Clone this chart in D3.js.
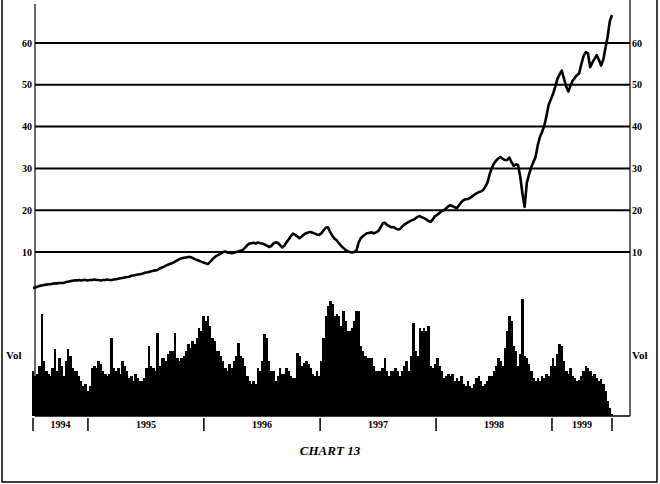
<!DOCTYPE html>
<html><head><meta charset="utf-8">
<script src="https://cdn.jsdelivr.net/npm/d3@7"></script>
<style>body{margin:0;background:#fff} svg{display:block} text{font-family:"Liberation Serif","DejaVu Serif",serif;fill:#000}</style>
</head><body><svg id="c" width="660" height="484"></svg>
<script>
const priceValues = [
1.4,1.5,1.7,1.9,2.0,2.1,2.2,2.3,2.3,2.4,
2.5,2.5,2.6,2.6,2.6,2.8,2.9,3.0,3.1,3.2,
3.2,3.3,3.2,3.3,3.3,3.2,3.3,3.3,3.4,3.3,
3.3,3.2,3.3,3.3,3.4,3.3,3.3,3.4,3.5,3.6,
3.7,3.8,3.9,4.0,4.1,4.3,4.4,4.5,4.6,4.7,
4.8,5.0,5.1,5.2,5.4,5.5,5.6,5.7,6.0,6.3,
6.5,6.8,7.0,7.2,7.4,7.7,8.0,8.3,8.5,8.6,
8.7,8.8,8.8,8.6,8.3,8.1,7.9,7.7,7.5,7.3,
7.1,7.6,8.2,8.7,9.1,9.4,9.7,10.0,10.1,9.9,
9.8,9.7,9.8,10.0,10.1,10.3,10.5,11.0,11.6,12.0,
12.1,12.2,12.0,12.3,12.1,12.0,11.8,11.5,11.2,11.4,
12.0,12.3,12.2,11.7,11.1,11.5,12.3,13.0,13.8,14.4,
14.1,13.7,13.3,13.7,14.2,14.5,14.7,14.8,14.6,14.4,
14.2,14.1,14.5,15.2,15.8,15.9,14.8,13.9,13.2,12.8,
12.1,11.5,11.0,10.5,10.2,10.0,9.9,10.0,10.3,12.2,
13.3,13.8,14.2,14.5,14.6,14.7,14.5,14.7,15.0,15.8,
16.8,17.0,16.5,16.2,15.9,16.0,15.6,15.4,15.5,16.1,
16.6,16.9,17.2,17.5,17.7,18.0,18.4,18.6,18.3,18.1,
17.8,17.4,17.2,17.8,18.6,18.9,19.3,19.8,20.0,20.4,
20.9,21.2,21.0,20.7,20.5,21.2,21.9,22.4,22.6,22.7,
22.9,23.3,23.7,24.0,24.3,24.5,24.8,25.6,26.6,28.6,
30.1,31.2,31.9,32.4,32.7,32.3,32.0,32.0,32.6,31.5,
30.6,31.0,30.8,28.0,24.0,20.8,26.5,28.5,30.2,31.5,
32.7,35.5,37.5,38.7,40.2,42.5,45.2,46.5,47.8,49.5,
51.4,52.5,53.4,51.5,49.6,48.4,49.8,51.0,51.7,52.3,
52.8,55.0,56.9,57.8,57.5,54.2,55.3,56.2,57.1,56.0,
54.6,56.0,58.8,61.5,65.2,66.7];

const volumeValues = [
45,40,42,50,102, 55,45,42,40,48, 67,45,58,50,40, 55,67,60,48,45,
45,40,35,30,32, 25,30,48,50,48, 55,52,45,42,40, 42,78,48,45,48,
42,55,50,45,38, 40,35,42,38,35, 35,38,48,70,50, 48,45,83,50,58,
58,55,62,65,65, 83,58,55,58,60, 65,72,68,75,72, 78,88,85,100,95,
100,90,78,75,65, 65,60,55,48,45, 52,48,55,60,73, 60,58,50,40,35,
32,35,32,48,45, 55,82,78,55,45, 45,35,40,48,42, 42,48,45,40,38,
38,63,60,50,53, 55,52,48,42,40, 45,40,55,78,100, 110,115,112,100,102,
100,90,105,95,85, 85,88,95,105,105, 70,65,60,58,58, 58,50,45,45,45,
48,58,45,40,45, 45,48,45,40,45, 50,55,45,60,93, 65,60,88,85,88,
85,90,50,48,52, 58,50,45,38,40, 42,40,42,35,38, 35,40,32,30,35,
30,28,32,38,40, 35,30,32,35,40,
40,45,50,58,55, 50,68,85,100,95, 70,65,50,62,117, 60,58,52,45,38,
35,38,35,40,38, 42,40,50,58,50, 62,72,70,55,45, 42,48,40,38,35,
36,40,45,50,48, 45,40,42,38,35, 37,32,25,15,8, 2];

const priceTicks = [10,20,30,40,50,60];
const yearLabels = ["1994","1995","1996","1997","1998","1999"];
const yearStarts = ["1995-01-01","1996-01-01","1997-01-01","1998-01-01","1999-01-01"];
const firstDate = "1994-07-12", lastDate = "1999-07-09";
const volLabel = "Vol";
const title = "CHART 13";

const svg = d3.select("#c");
const parse = d3.timeParse("%Y-%m-%d");
const t0 = parse(firstDate), t1 = parse(lastDate);
const n = priceValues.length;
const dates = d3.range(n).map(i => new Date(+t0 + (t1 - t0) * i / (n - 1)));
const x = d3.scaleTime().domain([t0, t1]).range([33, 612]);
const y = d3.scaleLinear().domain([0, 70]).range([293.8, 1.2]);
const yv = d3.scaleLinear().domain([0, 120]).range([416, 296]);

const L = 35, R = 630;

// outer frame
svg.append("path").attr("d", "M2,0V482H657V0").attr("fill","none").attr("stroke","#000").attr("stroke-width",1.5);

// gridlines
svg.selectAll("line.grid").data(priceTicks).join("line")
  .attr("x1", L).attr("x2", R).attr("y1", d => y(d)).attr("y2", d => y(d))
  .attr("stroke", "#000").attr("stroke-width", 2);

// axis lines
svg.append("line").attr("x1", L).attr("x2", L).attr("y1", 4).attr("y2", 416).attr("stroke","#000").attr("stroke-width",1.2);
svg.append("line").attr("x1", R).attr("x2", R).attr("y1", 0).attr("y2", 416).attr("stroke","#000").attr("stroke-width",1.2);
svg.append("line").attr("x1", L).attr("x2", R).attr("y1", 416).attr("y2", 416).attr("stroke","#000").attr("stroke-width",1.5);

// labels
svg.selectAll("text.yl").data(priceTicks).join("text")
  .attr("x", L - 3).attr("y", d => y(d)).attr("dy", "0.35em")
  .attr("text-anchor", "end").attr("font-size", 10).attr("font-weight", "bold").text(d => d);
svg.selectAll("text.yr").data(priceTicks).join("text")
  .attr("x", R + 2).attr("y", d => y(d)).attr("dy", "0.35em")
  .attr("text-anchor", "start").attr("font-size", 10).attr("font-weight", "bold").text(d => d);

// volume bars
svg.append("g").attr("shape-rendering","crispEdges").selectAll("rect").data(volumeValues).join("rect")
  .attr("x", (d, i) => x(dates[i]) - 1.2).attr("width", 2.6)
  .attr("y", d => yv(d)).attr("height", d => yv(0) - yv(d))
  .attr("fill", "#000");

// price line
svg.append("path").datum(priceValues)
  .attr("d", d3.line().x((d, i) => x(dates[i])).y(d => y(d)))
  .attr("fill", "none").attr("stroke", "#000").attr("stroke-width", 2.6).attr("stroke-linejoin", "round");

// x ticks
const bounds = [t0, ...yearStarts.map(parse), t1];
svg.selectAll("line.xt").data(bounds).join("line")
  .attr("x1", d => x(d)).attr("x2", d => x(d)).attr("y1", 418).attr("y2", 431)
  .attr("stroke", "#000").attr("stroke-width", 1.5);
svg.selectAll("text.xl").data(yearLabels).join("text")
  .attr("x", (d, i) => (x(bounds[i]) + x(bounds[i + 1])) / 2)
  .attr("y", 428).attr("text-anchor", "middle").attr("font-size", 10).attr("font-weight", "bold")
  .text(d => d);

// Vol labels
svg.append("text").attr("x", 6).attr("y", 359).attr("font-size", 11).attr("font-weight","bold").text(volLabel);
svg.append("text").attr("x", 632).attr("y", 359).attr("font-size", 11).attr("font-weight","bold").text(volLabel);

// title
svg.append("text").attr("x", 330).attr("y", 455).attr("text-anchor","middle")
  .attr("font-size", 13).attr("font-style","italic").attr("font-weight","bold").text(title);
</script></body></html>
